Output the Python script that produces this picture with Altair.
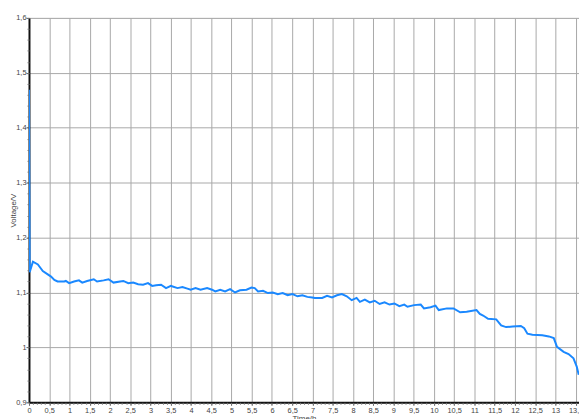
import altair as alt
import pandas as pd

# Discharge curve
time_h = [0.0, 0.017, 0.097, 0.219, 0.341, 0.463, 0.545, 0.626, 0.706, 0.869, 0.910,
          0.991, 1.112, 1.234, 1.315, 1.436, 1.600, 1.680, 1.843, 1.965, 2.087, 2.249,
          2.330, 2.452, 2.574, 2.695, 2.817, 2.939, 3.043, 3.140, 3.262, 3.384, 3.505,
          3.547, 3.668, 3.790, 3.912, 3.992, 4.114, 4.236, 4.399, 4.520, 4.601, 4.723,
          4.844, 4.966, 5.088, 5.209, 5.372, 5.494, 5.575, 5.657, 5.779, 5.901, 6.022,
          6.144, 6.266, 6.388, 6.509, 6.631, 6.753, 6.874, 6.996, 7.059, 7.240, 7.361,
          7.483, 7.605, 7.726, 7.848, 7.970, 8.091, 8.172, 8.294, 8.416, 8.537, 8.659,
          8.781, 8.903, 9.024, 9.146, 9.268, 9.348, 9.511, 9.674, 9.754, 9.917, 10.039,
          10.119, 10.321, 10.484, 10.648, 10.808, 11.052, 11.134, 11.215, 11.337, 11.539,
          11.660, 11.782, 11.945, 12.147, 12.230, 12.310, 12.432, 12.676, 12.838, 12.960,
          13.040, 13.203, 13.325, 13.447, 13.527, 13.576]
voltage_v = [1.469, 1.137, 1.156, 1.151, 1.139, 1.133, 1.129, 1.123, 1.120, 1.120, 1.121,
             1.117, 1.120, 1.122, 1.118, 1.121, 1.124, 1.120, 1.122, 1.124, 1.118, 1.120,
             1.121, 1.117, 1.118, 1.115, 1.114, 1.117, 1.112, 1.113, 1.114, 1.108, 1.112,
             1.111, 1.108, 1.110, 1.107, 1.105, 1.108, 1.105, 1.108, 1.105, 1.102, 1.105,
             1.102, 1.106, 1.100, 1.104, 1.105, 1.109, 1.108, 1.102, 1.103, 1.099, 1.100,
             1.097, 1.099, 1.095, 1.097, 1.093, 1.095, 1.092, 1.091, 1.090, 1.090, 1.094,
             1.091, 1.095, 1.097, 1.093, 1.086, 1.090, 1.083, 1.087, 1.082, 1.085, 1.079,
             1.082, 1.078, 1.080, 1.075, 1.078, 1.074, 1.077, 1.078, 1.071, 1.073, 1.076,
             1.068, 1.071, 1.071, 1.064, 1.065, 1.068, 1.061, 1.058, 1.052, 1.051,
             1.040, 1.037, 1.038, 1.039, 1.035, 1.025, 1.023, 1.022, 1.020, 1.017,
             1.001, 0.992, 0.988, 0.980, 0.965, 0.950]

x_ticks = [0, 0.5, 1, 1.5, 2, 2.5, 3, 3.5, 4, 4.5, 5, 5.5, 6, 6.5, 7, 7.5, 8, 8.5,
           9, 9.5, 10, 10.5, 11, 11.5, 12, 12.5, 13, 13.5]
y_ticks = [0.9, 1.0, 1.1, 1.2, 1.3, 1.4, 1.5, 1.6]
x_minor = [round(i * 0.1, 1) for i in range(0, 136)]
y_minor = [round(0.9 + i * 0.02, 2) for i in range(0, 36)]

df = pd.DataFrame({"t": time_h, "v": voltage_v})

X_DOMAIN = [0, 13.583]
Y_DOMAIN = [0.9, 1.6]
FONT = "Liberation Sans"
LBL = "replace(format(datum.value, '.1~f'), '.', ',')"

main = alt.Chart(df).mark_line(color="#1a88ff", strokeWidth=2, clip=True).encode(
    x=alt.X("t:Q", scale=alt.Scale(domain=X_DOMAIN, nice=False, zero=False),
            axis=alt.Axis(orient="bottom", values=x_ticks, labelExpr=LBL, title="Time/h",
                          grid=True, gridColor="#a8a8a8", gridWidth=1, gridOpacity=1,
                          domainColor="#111111", domainWidth=2,
                          tickColor="#555555", tickSize=3, labelPadding=1,
                          labelFont=FONT, labelFontSize=7.5, labelColor="#444444",
                          labelOverlap=False, labelFlush=False,
                          titleFont=FONT, titleFontSize=8, titleFontWeight="normal",
                          titleColor="#444444", titleY=12.5, titleBaseline="top")),
    y=alt.Y("v:Q", scale=alt.Scale(domain=Y_DOMAIN, nice=False, zero=False),
            axis=alt.Axis(orient="left", values=y_ticks, labelExpr=LBL, title="Voltage/V",
                          grid=True, gridColor="#a8a8a8", gridWidth=1, gridOpacity=1,
                          domainColor="#111111", domainWidth=2,
                          tickColor="#555555", tickSize=3, labelPadding=0,
                          labelFont=FONT, labelFontSize=7.5, labelColor="#444444",
                          labelOverlap=False, labelFlush=False,
                          titleFont=FONT, titleFontSize=8, titleFontWeight="normal",
                          titleColor="#444444", titleX=-12, titleY=195,
                          titleAngle=270, titleBaseline="bottom")),
)

minor = alt.Chart(df).mark_line(opacity=0).encode(
    x=alt.X("t:Q", scale=alt.Scale(domain=X_DOMAIN, nice=False, zero=False),
            axis=alt.Axis(orient="bottom", values=x_minor, labels=False, grid=False,
                          domain=False, ticks=True, tickSize=2, tickColor="#777777",
                          title=None)),
    y=alt.Y("v:Q", scale=alt.Scale(domain=Y_DOMAIN, nice=False, zero=False),
            axis=alt.Axis(orient="left", values=y_minor, labels=False, grid=False,
                          domain=False, ticks=True, tickSize=2, tickColor="#777777",
                          title=None)),
)

chart = alt.layer(main, minor).resolve_axis(x="independent", y="independent").properties(
    width=558,
    height=390,
    autosize=alt.AutoSizeParams(type="none"),
    padding={"left": 21.3, "top": 7, "right": 0, "bottom": 22},
).configure_view(stroke="#222222", strokeWidth=1.5).configure(background="white")

chart.save("out.html", embed_options={"renderer": "svg", "actions": False})
